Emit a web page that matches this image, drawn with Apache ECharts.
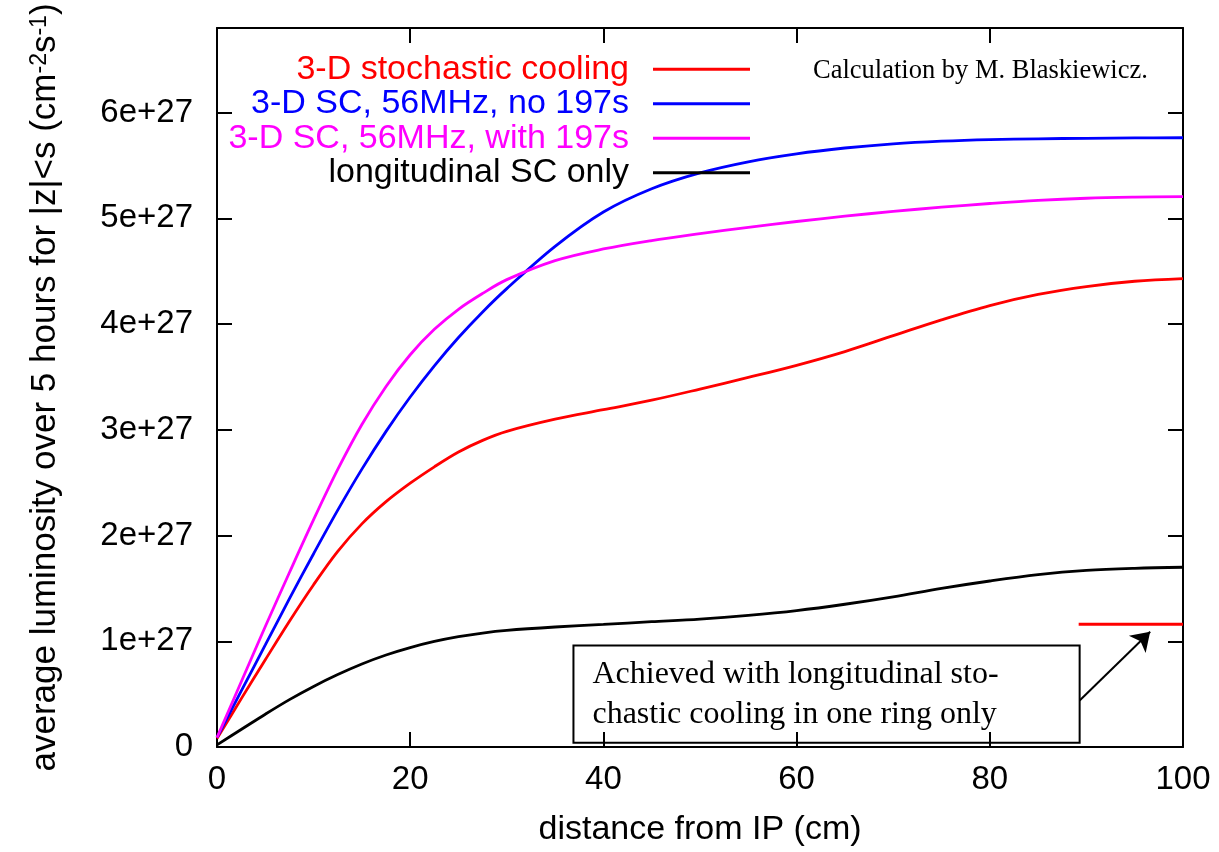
<!DOCTYPE html>
<html>
<head>
<meta charset="utf-8">
<script src="https://cdn.jsdelivr.net/npm/echarts@6/dist/echarts.min.js"></script>
<style>
html,body{margin:0;padding:0;background:#fff;}
#chart{width:1219px;height:852px;}
</style>
</head>
<body>
<div id="chart"></div>
<script>
// distance from IP (cm)
const xs = [0, 2.5, 5, 7.5, 10, 12.5, 15, 17.5, 20, 22.5, 25, 27.5, 30, 35, 40, 45, 50, 55, 60, 65, 70, 75, 80, 85, 90, 95, 100];
// luminosity in units of 1e27 cm^-2 s^-1
const sc3d = [0.08, 0.455, 0.825, 1.19, 1.535, 1.85, 2.11, 2.32, 2.495, 2.65, 2.79, 2.9, 2.985, 3.1, 3.19, 3.28, 3.385, 3.495, 3.61, 3.74, 3.89, 4.04, 4.175, 4.28, 4.355, 4.405, 4.43];
const sc56no197 = [0.09, 0.528, 0.965, 1.403, 1.828, 2.24, 2.628, 2.985, 3.31, 3.605, 3.873, 4.115, 4.335, 4.735, 5.06, 5.28, 5.43, 5.535, 5.61, 5.665, 5.705, 5.73, 5.745, 5.752, 5.757, 5.76, 5.762];
const sc56with197 = [0.09, 0.615, 1.14, 1.65, 2.15, 2.625, 3.05, 3.41, 3.71, 3.95, 4.14, 4.29, 4.42, 4.6, 4.71, 4.79, 4.855, 4.915, 4.97, 5.02, 5.065, 5.105, 5.14, 5.17, 5.19, 5.2, 5.205];
const longOnly = [0.02, 0.165, 0.31, 0.448, 0.573, 0.685, 0.785, 0.87, 0.94, 0.998, 1.043, 1.078, 1.103, 1.135, 1.16, 1.185, 1.21, 1.245, 1.29, 1.35, 1.42, 1.5, 1.57, 1.63, 1.67, 1.69, 1.70];
// achieved level (red bar) x-range and value
const achievedX = [89.2, 100];
const achievedV = [1.16, 1.16];
// annotation box (data coords) and arrow (data coords)
const boxCorners = [[36.9, 0.04], [89.3, 0.96]];
const arrowPts = [[89.3, 0.44], [96.6, 1.09]];

const seriesNames = ['3-D stochastic cooling', '3-D SC, 56MHz, no 197s', '3-D SC, 56MHz, with 197s', 'longitudinal SC only'];
const seriesColors = ['#ff0000', '#0000ff', '#ff00ff', '#000000'];
const seriesValues = [sc3d, sc56no197, sc56with197, longOnly];
const xTicks = [0, 20, 40, 60, 80, 100];
const yTickLabels = ['0', '1e+27', '2e+27', '3e+27', '4e+27', '5e+27', '6e+27'];

const SANS = '"Liberation Sans", Arial, sans-serif';
const SERIF = '"Liberation Serif", "Times New Roman", serif';

const chart = echarts.init(document.getElementById('chart'));

const axisLine = {show: true, onZero: false, lineStyle: {color: '#000', width: 2}};
const axisTick = {show: true, inside: true, length: 15, lineStyle: {color: '#000', width: 2}};

const lineSeries = seriesNames.map((n, i) => ({
  name: n,
  type: 'line',
  data: xs.map((x, j) => [x, seriesValues[i][j]]),
  smooth: 0.35,
  symbol: 'none',
  lineStyle: {color: seriesColors[i], width: 2.8},
  itemStyle: {color: seriesColors[i]},
  z: 3
}));

lineSeries.push({
  name: 'achieved',
  type: 'line',
  data: achievedX.map((x, j) => [x, achievedV[j]]),
  symbol: 'none',
  lineStyle: {color: '#ff0000', width: 3},
  itemStyle: {color: '#ff0000'},
  silent: true,
  markArea: {
    silent: true,
    itemStyle: {color: 'rgba(0,0,0,0)', borderColor: '#000', borderWidth: 2},
    label: {
      show: true,
      position: 'insideLeft',
      distance: 20,
      formatter: 'Achieved with longitudinal sto-\nchastic cooling in one ring only',
      fontFamily: SERIF,
      fontSize: 32,
      lineHeight: 40,
      color: '#000'
    },
    data: [[{coord: boxCorners[0]}, {coord: boxCorners[1]}]]
  },
  markLine: {
    silent: true,
    symbolSize: 18,
    lineStyle: {color: '#000', width: 2, type: 'solid'},
    label: {show: false},
    data: [[{coord: arrowPts[0], symbol: 'none'}, {coord: arrowPts[1], symbol: 'arrow'}]]
  }
});

chart.setOption({
  animation: false,
  backgroundColor: '#fff',
  grid: {left: 217, right: 36, top: 28, bottom: 105, outerBoundsMode: 'none'},
  legend: {
    orient: 'vertical',
    align: 'right',
    right: 469,
    top: 52,
    padding: 0,
    itemGap: 0,
    itemWidth: 97,
    itemHeight: 3,
    icon: 'rect',
    selectedMode: false,
    textStyle: {fontFamily: SANS, fontSize: 34, lineHeight: 34.5, padding: [0, 19, 0, 0]},
    data: seriesNames.map((n, i) => ({name: n, textStyle: {color: seriesColors[i]}}))
  },
  xAxis: [{
    type: 'value', min: 0, max: 100, interval: 20,
    position: 'bottom',
    name: 'distance from IP (cm)',
    nameLocation: 'middle',
    nameGap: 66,
    nameTextStyle: {fontFamily: SANS, fontSize: 34, color: '#000'},
    axisLine, axisTick,
    splitLine: {show: false},
    axisLabel: {fontFamily: SANS, fontSize: 33, color: '#000', margin: 16,
      formatter: v => xTicks.includes(v) ? String(v) : ''}
  }, {
    type: 'value', min: 0, max: 100, interval: 20,
    position: 'top',
    axisLine, axisTick,
    splitLine: {show: false},
    axisLabel: {show: false}
  }],
  yAxis: [{
    type: 'value', min: 0, max: 6.8, interval: 1,
    position: 'left',
    name: 'average luminosity over 5 hours for |z|<s (cm{sup|-2}s{sup|-1})',
    nameLocation: 'middle',
    nameGap: 154,
    nameTextStyle: {
      fontFamily: SANS, fontSize: 35, color: '#000',
      rich: {sup: {fontFamily: SANS, fontSize: 23, color: '#000', verticalAlign: 'top', lineHeight: 35, padding: [0, 0, 15, 0]}}
    },
    axisLine, axisTick,
    splitLine: {show: false},
    axisLabel: {fontFamily: SANS, fontSize: 33, color: '#000', margin: 24,
      formatter: v => {
        const r = Math.round(v);
        return Math.abs(v - r) < 1e-9 && yTickLabels[r] !== undefined ? yTickLabels[r] : '';
      }}
  }, {
    type: 'value', min: 0, max: 6.8, interval: 1,
    position: 'right',
    axisLine, axisTick,
    splitLine: {show: false},
    axisLabel: {show: false}
  }],
  graphic: [{
    type: 'text',
    left: 813,
    top: 58,
    style: {text: 'Calculation by M. Blaskiewicz.', fontFamily: SERIF, fontSize: 26.5, fill: '#000'}
  }],
  series: lineSeries
});
</script>
</body>
</html>
